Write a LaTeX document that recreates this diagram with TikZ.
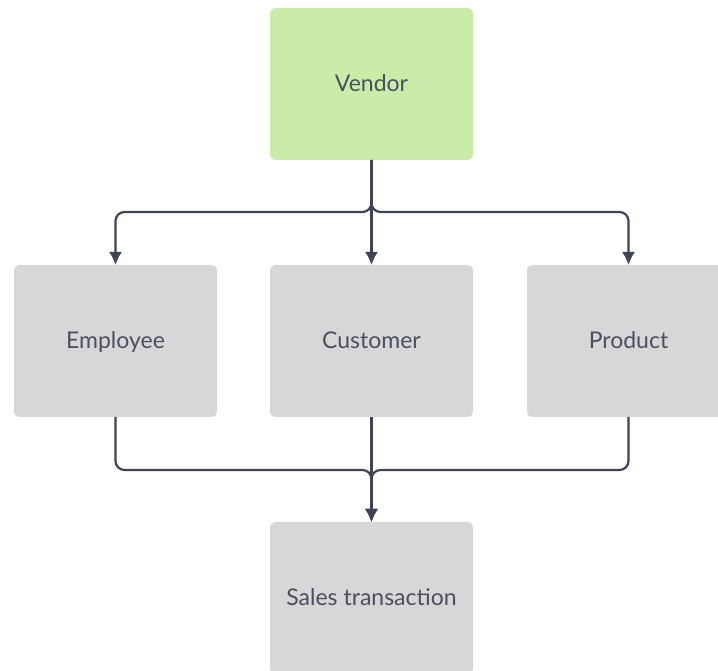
\documentclass[tikz,border=0pt]{standalone}
\usepackage{fontspec}
\setmainfont{Lato}
\usepackage{tikz}
\usetikzlibrary{arrows.meta,positioning}

\definecolor{boxgreen}{HTML}{C9EDA8}
\definecolor{boxgray}{HTML}{D7D7D7}
\definecolor{linkcol}{HTML}{3E4454}
\definecolor{textcol}{HTML}{4B5060}

\begin{document}
\begin{tikzpicture}[x=1pt, y=1pt, >={Latex[length=13pt,width=13pt]}, node distance=53pt]
	\tikzstyle{entity} = [rounded corners=5pt, minimum width=203pt, minimum height=152pt,
	  inner sep=0pt, outer sep=0pt, text=textcol, text height=20pt, text depth=4pt,
	  font=\fontsize{23}{27}\selectfont]
	\tikzstyle{link} = [draw=linkcol, line width=2.2pt, rounded corners=9pt]
	\clip (0,0) rectangle (718,670);
	\path
	  node[entity, fill=boxgreen] at (371.5,586) (vendor) {Vendor}
	  node[entity, fill=boxgray, below=105pt of vendor] (customer) {Customer}
	  node[entity, fill=boxgray, left=of customer] (employee) {Employee}
	  node[entity, fill=boxgray, right=54pt of customer] (product) {Product}
	  node[entity, fill=boxgray, below=105pt of customer] (sales) {Sales transaction}
	  ;
	% vendor to the three entities
	\draw[link, ->] (vendor.south) -- ++(0,-52) -| (employee.north);
	\draw[link, ->] (vendor.south) -- (customer.north);
	\draw[link, ->] (vendor.south) -- ++(0,-52) -| (product.north);
	% entities to sales transaction
	\draw[link, ->] (employee.south) -- ++(0,-53) -| (sales.north);
	\draw[link, ->] (customer.south) -- (sales.north);
	\draw[link, ->] (product.south) -- ++(0,-53) -| (sales.north);
\end{tikzpicture}
\end{document}
